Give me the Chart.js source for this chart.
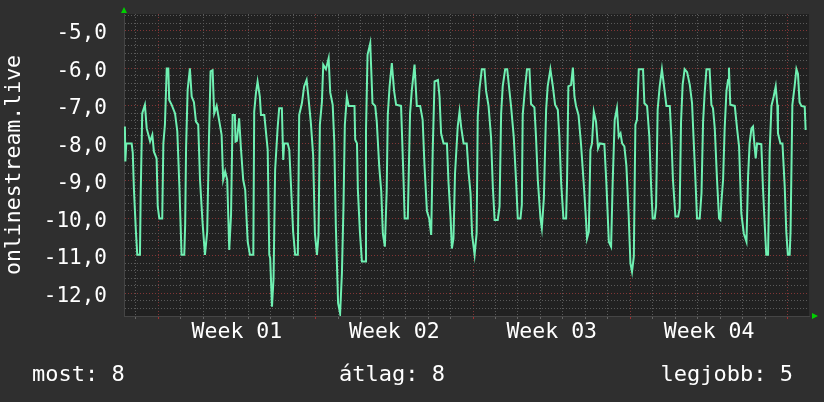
<!DOCTYPE html>
<html>
<head>
<meta charset="utf-8">
<script src="https://cdn.jsdelivr.net/npm/chart.js@4.4.1/dist/chart.umd.min.js"></script>
<style>
  html, body { margin: 0; padding: 0; background: #2f2f2f; }
  canvas { display: block; }
</style>
</head>
<body>
<canvas id="rrdChart" width="824" height="402"></canvas>
<script>
// time in days from the left edge of the graph, value of onlinestream.live
var days = [
  0.04, 0.06, 0.10, 0.34, 0.39, 0.44, 0.53, 0.59, 0.71, 0.74,
  0.81, 0.93, 1.01, 1.16, 1.26, 1.33, 1.45, 1.50, 1.57, 1.70,
  1.75, 1.82, 1.90, 1.97, 2.01, 2.12, 2.27, 2.37, 2.46, 2.56,
  2.68, 2.72, 2.76, 2.83, 2.93, 3.01, 3.11, 3.20, 3.30, 3.38,
  3.50, 3.60, 3.70, 3.78, 3.85, 3.94, 4.01, 4.12, 4.24, 4.34,
  4.41, 4.50, 4.59, 4.68, 4.76, 4.83, 4.93, 4.96, 5.02, 5.12,
  5.20, 5.30, 5.39, 5.50, 5.60, 5.75, 5.79, 5.87, 5.94, 6.04,
  6.09, 6.24, 6.31, 6.39, 6.46, 6.50, 6.58, 6.65, 6.72, 6.83,
  6.90, 7.02, 7.08, 7.12, 7.28, 7.35, 7.42, 7.52, 7.61, 7.73,
  7.79, 7.91, 8.01, 8.12, 8.19, 8.31, 8.41, 8.49, 8.58, 8.65,
  8.71, 8.80, 8.86, 8.98, 9.10, 9.17, 9.28, 9.35, 9.42, 9.52,
  9.61, 9.69, 9.76, 9.82, 9.91, 9.99, 10.25, 10.28, 10.36, 10.40,
  10.49, 10.58, 10.72, 10.76, 10.83, 10.95, 11.05, 11.17, 11.24, 11.35,
  11.44, 11.51, 11.60, 11.68, 11.73, 11.81, 11.91, 12.01, 12.10, 12.32,
  12.43, 12.48, 12.62, 12.72, 12.80, 12.92, 13.02, 13.17, 13.28, 13.36,
  13.47, 13.57, 13.66, 13.73, 13.81, 13.96, 14.03, 14.10, 14.21, 14.36,
  14.43, 14.52, 14.58, 14.65, 14.72, 14.84, 14.92, 14.99, 15.10, 15.24, 15.32,
  15.41, 15.48, 15.59, 15.68, 15.73, 15.81, 15.91, 16.03, 16.10, 16.21,
  16.32, 16.40, 16.48, 16.62, 16.70, 16.77, 16.84, 16.95, 17.04, 17.14,
  17.21, 17.33, 17.44, 17.51, 17.63, 17.69, 17.73, 17.84, 17.92, 18.03,
  18.10, 18.25, 18.32, 18.40, 18.52, 18.58, 18.67, 18.77, 18.84, 18.96,
  19.07, 19.17, 19.29, 19.36, 19.44, 19.54, 19.66, 19.70, 19.76, 19.88,
  19.96, 20.03, 20.10, 20.21, 20.32, 20.44, 20.52, 20.59, 20.67, 20.74,
  20.81, 20.89, 20.99, 21.08, 21.16, 21.36, 21.45, 21.56, 21.66, 21.73,
  21.82, 21.92, 22.00, 22.08, 22.15, 22.25, 22.34, 22.44, 22.52, 22.59,
  22.67, 22.74, 22.81, 22.89, 23.08, 23.14, 23.26, 23.36, 23.44, 23.51,
  23.60, 23.66, 23.73, 23.82, 23.92, 24.03, 24.12, 24.27, 24.34, 24.41,
  24.52, 24.64, 24.71, 24.77, 24.84, 24.93, 25.04, 25.16, 25.26, 25.33,
  25.41, 25.48, 25.60, 25.68, 25.75, 25.82, 25.90, 26.04, 26.12, 26.19,
  26.27, 26.37, 26.46, 26.52, 26.56, 26.64, 26.71, 26.79, 26.86, 26.90,
  26.96, 27.16, 27.26, 27.35, 27.45, 27.56, 27.68, 27.75, 27.82, 27.90,
  27.97, 28.04, 28.09, 28.15, 28.34, 28.41, 28.49, 28.56, 28.64, 28.71,
  28.79, 28.89, 28.98, 29.05, 29.08, 29.19, 29.28, 29.38, 29.45, 29.52,
  29.60, 29.64, 29.72, 29.82, 29.90, 29.97, 30.04, 30.12, 30.27, 30.31
];
var values = [
  -7.55, -8.48, -8.0, -8.0, -8.25, -9.2, -10.35, -10.97, -10.97, -9.42,
  -7.2, -6.97, -7.6, -7.95, -7.77, -8.22, -8.4, -9.68, -10.0, -10.0,
  -8.0, -7.5, -6.0, -6.0, -6.84, -6.97, -7.2, -7.68, -9.1, -10.97,
  -10.97, -10.17, -8.13, -6.57, -6.0, -6.75, -6.9, -7.42, -7.5, -8.97,
  -10.17, -10.97, -10.35, -7.82, -6.08, -6.05, -7.2, -7.0, -7.42, -7.77,
  -8.97, -8.75, -8.97, -10.84, -9.9, -7.24, -7.24, -7.95, -7.93, -7.33,
  -8.13, -8.97, -9.24, -10.62, -10.97, -10.97, -7.15, -6.64, -6.35, -6.75,
  -7.24, -7.24, -7.68, -8.17, -10.97, -11.05, -12.35, -11.6, -8.71, -7.6,
  -7.06, -7.06, -8.44, -8.0, -8.0, -8.17, -9.04, -10.35, -10.97, -10.97,
  -7.24, -6.93, -6.48, -6.31, -6.7, -7.46, -8.31, -10.4, -10.97, -10.44,
  -7.5, -6.9, -5.9, -6.02, -5.73, -6.64, -6.97, -7.95, -10.2, -12.26,
  -12.53, -11.46, -9.68, -7.5, -6.75, -7.0, -7.0, -7.9, -8.0, -9.24,
  -10.35, -11.15, -11.15, -7.68, -5.64, -5.33, -6.93, -7.0, -7.42, -8.62,
  -9.28, -10.4, -10.75, -9.28, -7.24, -6.48, -5.86, -6.6, -6.97, -7.0,
  -8.97, -10.0, -10.0, -7.2, -6.57, -5.9, -7.0, -7.0, -7.37, -8.57,
  -9.8, -10.0, -10.44, -8.13, -6.35, -6.31, -6.75, -7.73, -8.0, -8.0,
  -9.04, -9.95, -10.8, -10.53, -8.8, -7.55, -7.15, -7.55, -8.0, -8.0, -8.75,
  -9.33, -10.44, -10.97, -10.4, -7.28, -6.53, -6.02, -6.02, -6.6, -7.0,
  -7.82, -9.15, -10.04, -10.04, -9.68, -7.2, -6.48, -6.02, -6.02, -6.6,
  -7.0, -7.82, -9.06, -10.0, -10.0, -9.64, -7.24, -6.48, -6.02, -6.02,
  -6.95, -7.04, -7.82, -8.97, -10.0, -10.26, -9.46, -7.1, -6.48, -6.02,
  -6.48, -6.97, -7.1, -7.82, -9.06, -10.0, -10.0, -9.04, -6.48, -6.44,
  -5.98, -6.75, -7.0, -7.24, -8.0, -9.04, -9.8, -10.53, -10.35, -8.17,
  -8.0, -7.15, -7.42, -8.13, -8.0, -8.02, -9.06, -10.62, -10.75, -9.04,
  -7.37, -7.06, -7.82, -7.73, -8.0, -8.08, -8.6, -9.9, -11.2, -11.42,
  -11.02, -7.5, -7.37, -6.02, -6.02, -6.93, -7.0, -7.82, -9.15, -10.0,
  -10.0, -9.68, -7.1, -6.48, -6.02, -6.55, -7.0, -7.0, -7.82, -8.97,
  -9.95, -9.95, -9.73, -7.42, -6.44, -6.02, -6.1, -6.44, -6.93, -7.9,
  -8.97, -10.0, -10.0, -9.33, -7.42, -6.66, -6.02, -6.02, -6.97, -7.06,
  -7.6, -8.97, -10.0, -10.04, -9.6, -8.97, -7.6, -6.6, -6.31, -5.98,
  -6.97, -7.0, -7.6, -8.08, -9.86, -10.4, -10.62, -8.88, -8.0, -7.6,
  -7.55, -8.08, -8.4, -8.0, -8.02, -9.15, -10.15, -10.97, -10.97, -8.22,
  -7.0, -6.75, -6.48, -6.97, -7.73, -8.0, -8.0, -9.15, -10.35, -10.97,
  -10.97, -10.35, -6.97, -6.48, -6.02, -6.15, -6.9, -7.0, -7.02, -7.64
];

var weekLabels = ["Week 01", "Week 02", "Week 03", "Week 04"];
var weekStarts = [1.52, 8.52, 15.52, 22.52, 29.52];
var legendTexts = ["most: 8", "átlag: 8", "legjobb: 5"];
var axisTitle = "onlinestream.live";

var X_MAX = 30.46;
var Y_MIN = -12.6;
var Y_MAX = -4.55;

var MONO = "'DejaVu Sans Mono', monospace";
var MINOR = "#5a5a5a";
var MAJOR = "#803636";

function weekMid(i) {
  return weekStarts[i] + 3.5;
}
function isWeekLine(v) {
  return weekStarts.some(function (w) { return Math.abs(w - v) < 0.001; });
}
function labelIndex(v) {
  for (var i = 0; i < weekLabels.length; i++) {
    if (Math.abs(weekMid(i) - v) < 0.001) return i;
  }
  return -1;
}
// no extra room for half-height labels at the ends
function noEndPadding(s) {
  s.paddingTop = 0;
  s.paddingBottom = 0;
  s.paddingLeft = 0;
  s.paddingRight = 0;
}

var rrdDecor = {
  id: "rrdDecor",
  beforeDraw: function (chart) {
    var c = chart.ctx, a = chart.chartArea;
    c.save();
    c.fillStyle = "#2f2f2f";
    c.fillRect(0, 0, chart.width, chart.height);
    c.fillStyle = "#212121";
    c.fillRect(a.left, a.top, a.right - a.left, a.bottom - a.top);
    c.restore();
  },
  afterDraw: function (chart) {
    var c = chart.ctx, a = chart.chartArea;
    c.save();
    c.fillStyle = "#ffffff";
    // vertical axis title
    c.font = "21.5px " + MONO;
    c.save();
    c.translate(14, (a.top + a.bottom) / 2);
    c.rotate(-Math.PI / 2);
    c.textAlign = "center";
    c.textBaseline = "middle";
    c.fillText(axisTitle, 0, 0);
    c.restore();
    // legend line
    c.font = "22px " + MONO;
    c.textBaseline = "alphabetic";
    c.textAlign = "left";
    c.fillText(legendTexts[0], 32, 381);
    c.fillText(legendTexts[1], 339, 381);
    c.textAlign = "right";
    c.fillText(legendTexts[2], 793, 381);
    // arrows
    c.fillStyle = "#00d000";
    c.beginPath();
    c.moveTo(a.left - 3, 13);
    c.lineTo(a.left + 3, 13);
    c.lineTo(a.left, 7);
    c.closePath();
    c.fill();
    c.beginPath();
    c.moveTo(a.right + 3, a.bottom - 3);
    c.lineTo(a.right + 3, a.bottom + 3);
    c.lineTo(a.right + 9, a.bottom);
    c.closePath();
    c.fill();
    c.restore();
  }
};

new Chart("rrdChart", {
  type: "line",
  data: {
    datasets: [
      {
        data: days.map(function (d, i) { return { x: d, y: values[i] }; }),
        borderColor: "#6ff0b2",
        borderWidth: 2,
        pointRadius: 0,
        tension: 0,
        fill: false,
      },
    ],
  },
  options: {
    responsive: false,
    animation: false,
    devicePixelRatio: 1,
    layout: { padding: { top: 14, right: 15, bottom: 0, left: 0 } },
    plugins: {
      legend: { display: false },
      tooltip: { enabled: false },
    },
    scales: {
      x: {
        type: "linear",
        min: 0,
        max: X_MAX,
        afterFit: function (s) { s.height = 86; noEndPadding(s); },
        afterBuildTicks: function (s) {
          var t = [];
          for (var d = 0; d < 30; d++) t.push(0.52 + d);
          for (var i = 0; i < weekLabels.length; i++) t.push(weekMid(i));
          t.sort(function (a, b) { return a - b; });
          s.ticks = t.map(function (v) { return { value: v }; });
        },
        grid: {
          color: function (ctx) {
            var v = ctx.tick ? ctx.tick.value : 0;
            if (labelIndex(v) >= 0) return "rgba(0,0,0,0)";
            return isWeekLine(v) ? MAJOR : MINOR;
          },
          tickColor: function (ctx) {
            var v = ctx.tick ? ctx.tick.value : 0;
            if (labelIndex(v) >= 0) return "rgba(0,0,0,0)";
            return isWeekLine(v) ? "#a03030" : "#666666";
          },
          tickLength: 3,
          lineWidth: 1,
        },
        border: { display: true, color: "#454545", width: 1, dash: [1, 2] },
        ticks: {
          autoSkip: false,
          maxRotation: 0,
          padding: 1,
          color: "#ffffff",
          font: { family: MONO, size: 21.5 },
          callback: function (value) {
            var i = labelIndex(value);
            return i >= 0 ? weekLabels[i] : "";
          },
        },
      },
      y: {
        min: Y_MIN,
        max: Y_MAX,
        afterFit: function (s) { s.width = 124; noEndPadding(s); },
        afterBuildTicks: function (s) {
          var t = [];
          for (var k = -63; k <= -23; k++) t.push({ value: Math.round(k * 2) / 10 });
          s.ticks = t;
        },
        grid: {
          color: function (ctx) {
            var v = ctx.tick ? ctx.tick.value : 0;
            return Math.abs(v - Math.round(v)) < 0.001 ? MAJOR : MINOR;
          },
          drawTicks: false,
          lineWidth: 1,
        },
        border: { display: true, color: "#454545", width: 1, dash: [1, 2] },
        ticks: {
          autoSkip: false,
          padding: 17,
          labelOffset: 3,
          color: "#ffffff",
          font: { family: MONO, size: 21 },
          callback: function (value) {
            if (Math.abs(value - Math.round(value)) > 0.001) return "";
            return value.toFixed(1).replace(".", ",");
          },
        },
      },
    },
  },
  plugins: [rrdDecor],
});
</script>
</body>
</html>
